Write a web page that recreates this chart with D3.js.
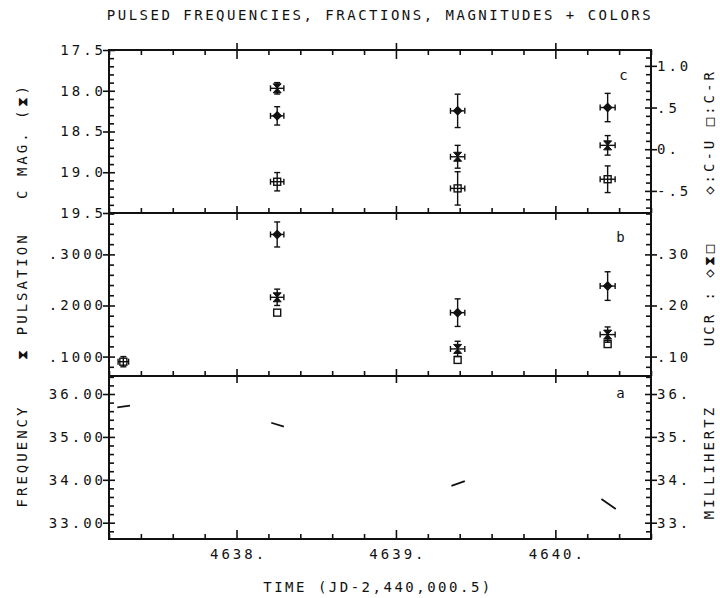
<!DOCTYPE html>
<html><head><meta charset="utf-8">
<script src="https://cdn.jsdelivr.net/npm/d3@7"></script>
<style>
body{margin:0;background:#fff}
text{font-family:"DejaVu Sans Mono",monospace;fill:#111;font-size:14px;letter-spacing:3px}
</style>
</head><body>
<svg id="chart" width="720" height="598"></svg>
<script>
// ---------- data ----------
const timeDomain = [4637.2, 4640.6];
const xMajor = [4638, 4639, 4640];
const xLabels = ["4638.", "4639.", "4640."];

// panel c : magnitudes and colors
const magTimes = [4638.255, 4639.387, 4640.328];
const timeErr = [0.042, 0.045, 0.047];
const cMag = [17.97, 18.81, 18.67];
const cMagErr = [0.07, 0.14, 0.12];
const cuColor = [0.40, 0.46, 0.50];
const cuErr = [0.11, 0.20, 0.17];
const crColor = [-0.39, -0.47, -0.36];
const crErr = [0.11, 0.20, 0.16];
const cLeftTicks = [17.5, 18.0, 18.5, 19.0, 19.5];
const cLeftLabels = ["17.5", "18.0", "18.5", "19.0", "19.5"];
const cRightTicks = [1.0, 0.5, 0.0, -0.5];
const cRightLabels = ["1.0", ".5", "0.", "-.5"];

// panel b : pulsation fractions
const pulseTimes = [4638.255, 4639.387, 4640.328];
const pulseFrac = [0.216, 0.115, 0.143];
const pulseErr = [0.016, 0.015, 0.015];
const ucrDiamond = [0.339, 0.186, 0.238];
const ucrDiamondErr = [0.0245, 0.027, 0.028];
const ucrSqTimes = [4637.29, 4638.255, 4639.387, 4640.328];
const ucrSquare = [0.090, 0.186, 0.0935, 0.1245];
const ucrSqErr = [0.010, 0, 0, 0];
const ucrSqTimeErr = [0.033, 0, 0, 0];
const bLeftTicks = [0.3, 0.2, 0.1];
const bLeftLabels = [".3000", ".2000", ".1000"];
const bRightLabels = [".30", ".20", ".10"];

// panel a : pulsed frequencies (segments)
const segT0 = [4637.252, 4638.218, 4639.348, 4640.289];
const segT1 = [4637.332, 4638.297, 4639.432, 4640.379];
const segF0 = [35.69, 35.33, 33.86, 33.55];
const segF1 = [35.73, 35.24, 33.97, 33.32];
const aTicks = [36, 35, 34, 33];
const aLeftLabels = ["36.00", "35.00", "34.00", "33.00"];
const aRightLabels = ["36.", "35.", "34.", "33."];

// ---------- layout ----------
const L = 109, R = 651, T = 50, Y1 = 213, Y2 = 376, B = 539;
const svg = d3.select("#chart");

const x = d3.scaleLinear().domain(timeDomain).range([L, R]);
const yC = d3.scaleLinear().domain([17.5, 19.5]).range([T, Y1]);
const yCr = d3.scaleLinear().domain([-0.765, 1.19]).range([Y1, T]);
const yB = d3.scaleLinear().domain([0.062, 0.381]).range([Y2, Y1]);
const yA = d3.scaleLinear().domain([32.62, 36.42]).range([B, Y2]);

const SW = 1.6;

function styleAxis(g) {
  g.select(".domain").remove();
  g.selectAll(".tick line").attr("stroke", "#111").attr("stroke-width", SW);
}

// ---- x ticks on each horizontal edge ----
function xEdge(yPos, dir, withLabels) {
  const minor = d3.range(4637.2, 4640.61, 0.2).filter(v => xMajor.every(m => Math.abs(m - v) > 1e-6));
  const gm = svg.append("g").attr("transform", `translate(0,${yPos})`)
    .call(d3.axisBottom(x).tickValues(minor).tickSize(dir * 5).tickFormat(""));
  styleAxis(gm);
  const gM = svg.append("g").attr("transform", `translate(0,${yPos})`)
    .call(d3.axisBottom(x).tickValues(xMajor).tickSize(0).tickPadding(10)
      .tickFormat((d, i) => withLabels ? xLabels[i] : ""));
  gM.select(".domain").remove();
  gM.selectAll(".tick line").attr("stroke", "#111").attr("stroke-width", SW)
    .attr("y1", yPos === B ? -9 : -7).attr("y2", yPos === B ? 0 : (yPos === T ? 9 : 7));
  gM.selectAll(".tick text").attr("dx", "1.5px");
}
xEdge(T, 1, false);
xEdge(Y1, -1, false);
xEdge(Y2, -1, false);
xEdge(B, -1, true);

// ---- y axes ----
function yEdge(xPos, side, scale, majors, labels, minorStep, lo, hi) {
  const minor = d3.range(Math.ceil(lo / minorStep - 1e-6) * minorStep, hi + 1e-9, minorStep)
    .filter(v => majors.every(m => Math.abs(m - v) > 1e-6));
  const ax = side === "left" ? d3.axisLeft : d3.axisRight;
  const gm = svg.append("g").attr("transform", `translate(${xPos},0)`)
    .call(ax(scale).tickValues(minor).tickSize(-5).tickFormat(""));
  styleAxis(gm);
  const gM = svg.append("g").attr("transform", `translate(${xPos},0)`)
    .call(ax(scale).tickValues(majors).tickSize(0).tickPadding(6).tickFormat((d, i) => labels[i]));
  gM.select(".domain").remove();
  gM.selectAll(".tick line").attr("stroke", "#111").attr("stroke-width", SW)
    .attr("x1", -6).attr("x2", 6);
  if (side === "left") gM.selectAll(".tick text").attr("dx", "3px");
}
yEdge(L, "left", yC, cLeftTicks, cLeftLabels, 0.1, 17.5, 19.5);
yEdge(R, "right", yCr, cRightTicks, cRightLabels, 0.1, -0.76, 1.19);
yEdge(L, "left", yB, bLeftTicks, bLeftLabels, 0.02, 0.062, 0.38);
yEdge(R, "right", yB, bLeftTicks, bRightLabels, 0.02, 0.062, 0.38);
yEdge(L, "left", yA, aTicks, aLeftLabels, 0.2, 32.62, 36.42);
yEdge(R, "right", yA, aTicks, aRightLabels, 0.2, 32.62, 36.42);

// ---- frame ----
svg.append("rect").attr("x", L).attr("y", T).attr("width", R - L).attr("height", B - T)
  .attr("fill", "none").attr("stroke", "#111").attr("stroke-width", 2);
[Y1, Y2].forEach(yy => svg.append("line").attr("x1", L).attr("x2", R).attr("y1", yy).attr("y2", yy)
  .attr("stroke", "#111").attr("stroke-width", 2));

// ---- markers ----
const marks = svg.append("g").attr("stroke", "#111").attr("stroke-width", 1.4);
function errY(px, y0, y1) {
  marks.append("line").attr("x1", px).attr("x2", px).attr("y1", y0).attr("y2", y1);
  [y0, y1].forEach(v => marks.append("line").attr("x1", px - 3).attr("x2", px + 3).attr("y1", v).attr("y2", v));
}
function errX(py, x0, x1) {
  marks.append("line").attr("x1", x0).attr("x2", x1).attr("y1", py).attr("y2", py);
  [x0, x1].forEach(v => marks.append("line").attr("x1", v).attr("x2", v).attr("y1", py - 3).attr("y2", py + 3));
}
function diamond(px, py) {
  marks.append("path").attr("d", `M${px},${py - 4}L${px + 4},${py}L${px},${py + 4}L${px - 4},${py}Z`)
    .attr("fill", "#111");
}
function square(px, py) {
  marks.append("rect").attr("x", px - 3.5).attr("y", py - 3.5).attr("width", 7).attr("height", 7)
    .attr("fill", "none");
}
function hourglass(px, py) {
  marks.append("path")
    .attr("d", `M${px - 4},${py - 4.5}L${px + 4},${py - 4.5}L${px - 4},${py + 4.5}L${px + 4},${py + 4.5}Z`)
    .attr("fill", "#111").attr("stroke-width", 1);
}

// panel c
magTimes.forEach((t, i) => {
  const px = x(t), x0 = x(t - timeErr[i]), x1 = x(t + timeErr[i]);
  errY(px, yC(cMag[i] - cMagErr[i]), yC(cMag[i] + cMagErr[i]));
  errX(yC(cMag[i]), x0, x1); hourglass(px, yC(cMag[i]));
  errY(px, yCr(cuColor[i] - cuErr[i]), yCr(cuColor[i] + cuErr[i]));
  errX(yCr(cuColor[i]), x0, x1); diamond(px, yCr(cuColor[i]));
  errY(px, yCr(crColor[i] - crErr[i]), yCr(crColor[i] + crErr[i]));
  errX(yCr(crColor[i]), x0, x1); square(px, yCr(crColor[i]));
});

// panel b
pulseTimes.forEach((t, i) => {
  const px = x(t), x0 = x(t - timeErr[i]), x1 = x(t + timeErr[i]);
  errY(px, yB(ucrDiamond[i] - ucrDiamondErr[i]), yB(ucrDiamond[i] + ucrDiamondErr[i]));
  errX(yB(ucrDiamond[i]), x0, x1); diamond(px, yB(ucrDiamond[i]));
  errY(px, yB(pulseFrac[i] - pulseErr[i]), yB(pulseFrac[i] + pulseErr[i]));
  errX(yB(pulseFrac[i]), x0, x1); hourglass(px, yB(pulseFrac[i]));
});
ucrSqTimes.forEach((t, i) => {
  const px = x(t);
  if (ucrSqErr[i] > 0) {
    errY(px, yB(ucrSquare[i] - ucrSqErr[i]), yB(ucrSquare[i] + ucrSqErr[i]));
    errX(yB(ucrSquare[i]), x(t - ucrSqTimeErr[i]), x(t + ucrSqTimeErr[i]));
  }
  square(px, yB(ucrSquare[i]));
});

// panel a
segT0.forEach((t, i) => {
  svg.append("line").attr("x1", x(t)).attr("x2", x(segT1[i]))
    .attr("y1", yA(segF0[i])).attr("y2", yA(segF1[i]))
    .attr("stroke", "#111").attr("stroke-width", 1.8);
});

// ---- texts ----
svg.append("text").attr("x", 380).attr("y", 20).attr("text-anchor", "middle")
  .style("letter-spacing", "2.5px").text("PULSED FREQUENCIES, FRACTIONS, MAGNITUDES + COLORS");
svg.append("text").attr("x", 378).attr("y", 592).attr("text-anchor", "middle")
  .style("letter-spacing", "2.5px").text("TIME (JD-2,440,000.5)");

function vlabel(cx, cy, txt) {
  svg.append("text").attr("transform", `translate(${cx},${cy}) rotate(-90)`)
    .attr("text-anchor", "middle").attr("dominant-baseline", "central").text(txt);
}
vlabel(22, 141, "C MAG. (⧗)");
vlabel(22, 296, "⧗ PULSATION");
vlabel(22, 456, "FREQUENCY");
vlabel(709, 132, "◇:C-U □:C-R");
vlabel(709, 294, "UCR : ◇⧗□");
vlabel(709, 462, "MILLIHERTZ");

svg.append("text").attr("x", 625).attr("y", 80).attr("text-anchor", "middle").text("c");
svg.append("text").attr("x", 622).attr("y", 242).attr("text-anchor", "middle").text("b");
svg.append("text").attr("x", 622).attr("y", 398).attr("text-anchor", "middle").text("a");
</script>
</body></html>
